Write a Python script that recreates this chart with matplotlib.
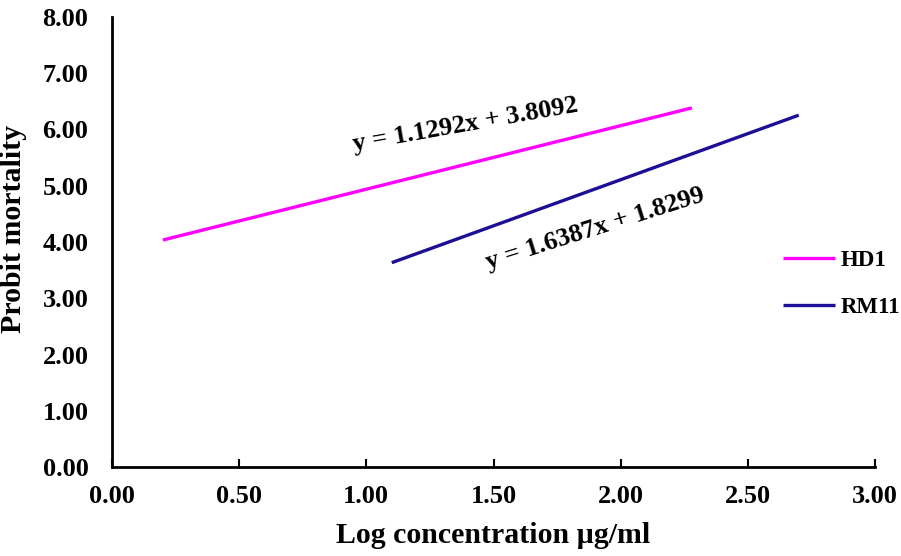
import matplotlib
matplotlib.use("Agg")
import matplotlib.pyplot as plt
import numpy as np

series_names = ["HD1", "RM11"]
hd1_x = [0.20, 2.28]
hd1_slope, hd1_intercept = 1.1292, 3.8092
rm11_x = [1.10, 2.70]
rm11_slope, rm11_intercept = 1.6387, 1.8299
x_ticks = [0.0, 0.5, 1.0, 1.5, 2.0, 2.5, 3.0]
y_ticks = [0, 1, 2, 3, 4, 5, 6, 7, 8]
eq_labels = ["y = 1.1292x + 3.8092", "y = 1.6387x + 1.8299"]

hd1_y = [hd1_slope * v + hd1_intercept for v in hd1_x]
rm11_y = [rm11_slope * v + rm11_intercept for v in rm11_x]

plt.rcParams['font.family'] = ['Liberation Serif', 'DejaVu Serif']
plt.rcParams['font.weight'] = 'bold'

fig = plt.figure(figsize=(9.01, 5.56), dpi=100)
ax = fig.add_axes([112/901, 1-467/556, (875-112)/901, (467-17)/556])

ax.plot(hd1_x, hd1_y, color='#FF00FF', lw=2.4, solid_capstyle='butt', label=series_names[0])
ax.plot(rm11_x, rm11_y, color='#1C0F96', lw=2.4, solid_capstyle='butt', label=series_names[1])

ax.set_xlim(0, 3)
ax.set_ylim(0, 8)
ax.set_xticks(x_ticks)
ax.set_yticks(y_ticks)
ax.set_xticklabels([f"{v:.2f}" for v in x_ticks])
ax.set_yticklabels([f"{v:.2f}" for v in y_ticks])
for s in ['top', 'right']:
    ax.spines[s].set_visible(False)
for s in ['left', 'bottom']:
    ax.spines[s].set_linewidth(2)
ax.tick_params(axis='x', direction='in', length=6, width=1.5, pad=13, labelsize=19)
ax.tick_params(axis='y', length=0, pad=17, labelsize=19)
for lbl in ax.get_xticklabels() + ax.get_yticklabels():
    lbl.set_fontweight('bold')

ax.set_xlabel("Log concentration µg/ml", fontsize=21.5, fontweight='bold', labelpad=10)
ax.set_ylabel("Probit mortality", fontsize=21.5, fontweight='bold')
ax.yaxis.set_label_coords(-85/763, (467-229)/450)

ax.text(1.388, 6.08, eq_labels[0], rotation=10, ha='center', va='center',
        rotation_mode='anchor', fontsize=19, fontweight='bold')
ax.text(1.899, 4.23, eq_labels[1], rotation=17.5, ha='center', va='center',
        rotation_mode='anchor', fontsize=19, fontweight='bold')

leg = ax.legend(loc='center left', bbox_to_anchor=((783-112)/763, (467-284)/450), frameon=False,
                borderpad=0, borderaxespad=0, handlelength=2.25, handletextpad=0.25,
                labelspacing=1.1, prop={'weight': 'bold', 'size': 16.5})

fig.savefig("out.png", dpi=100)
